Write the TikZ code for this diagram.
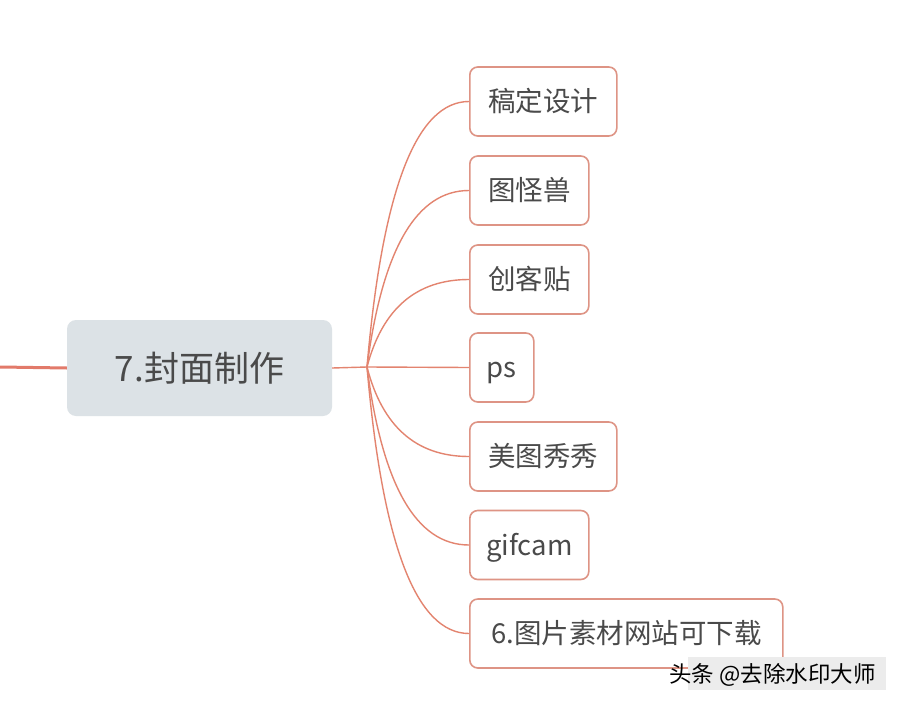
\documentclass[tikz,border=0pt]{standalone}
\usepackage{fontspec}
\setmainfont{Noto Sans CJK SC}
\usetikzlibrary{calc}
\definecolor{linec}{HTML}{E3846F}
\definecolor{thickc}{HTML}{E27A6A}
\definecolor{boxc}{HTML}{DE9485}
\definecolor{mainfill}{HTML}{DCE2E6}
\definecolor{txt}{HTML}{4A4A4A}
\tikzset{
  mainbox/.style={draw=none, fill=mainfill, rounded corners=9pt, minimum width=265pt, minimum height=96pt, inner sep=0pt, text=txt, font=\fontsize{35pt}{37pt}\selectfont, text height=30.8pt, text depth=4.2pt},
  childbox/.style={draw=boxc, line width=1.6pt, fill=white, rounded corners=8pt, minimum height=69pt, inner sep=0pt, anchor=west, text=txt, font=\fontsize{27.5pt}{29pt}\selectfont, text height=24.2pt, text depth=3.3pt},
  conn/.style={draw=linec, line width=1.4pt},
}
\begin{document}
\begin{tikzpicture}[x=1pt,y=-1pt]
\useasboundingbox (0,0) rectangle (900,709);
\fill[white] (0,0) rectangle (900,709);
\node[mainbox] (m) at (199.5,368) {7.封面制作};
\coordinate (l) at (0,367);
\coordinate (f) at (367,367);
\node[childbox, minimum width=147pt] (c1) at (469,101.5) {稿定设计};
\node[childbox, minimum width=119pt] (c2) at (469,190.5) {图怪兽};
\node[childbox, minimum width=119pt] (c3) at (469,279.5) {创客贴};
\node[childbox, minimum width=64pt] (c4) at (469,367.5) {ps};
\node[childbox, minimum width=147pt] (c5) at (469,456.5) {美图秀秀};
\node[childbox, minimum width=119pt] (c6) at (469,545) {gifcam};
\node[childbox, minimum width=313pt] (c7) at (469,633.5) {6.图片素材网站可下载};
\draw[thickc, line width=3pt] (l) -- (m.west);
\draw[conn] (m.east) -- (f);
\foreach \c in {c1,c2,c3,c5,c6,c7}{
  \coordinate (p) at ($(f |- \c.west)+(23,0)$);
  \draw[conn] (f) .. controls ($(f)!0.6667!(p)$) and ($(\c.west)!0.6667!(p)$) .. (\c.west);
}
\draw[conn] (f) -- (c4.west);
\node[fill=gray!15, inner sep=0pt, minimum width=198pt, minimum height=33pt] (wmbg) at (787,673.5) {};
\node[text=black, font=\fontsize{22.5pt}{24pt}\selectfont, inner sep=0pt, anchor=west] (wm) at (669,675) {头条 @去除水印大师};
\end{tikzpicture}
\end{document}
